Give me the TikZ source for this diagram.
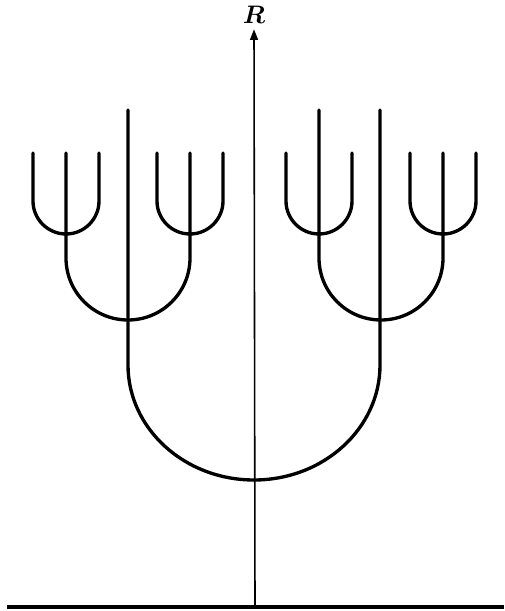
\documentclass[tikz,border=0pt]{standalone}
\usepackage{amsmath}
\usepackage{tikz}
\usetikzlibrary{arrows.meta,positioning}

\begin{document}
\begin{tikzpicture}[
  x=0.02cm, y=0.02cm,
  stem/.style={line width=1.9pt, line cap=round},
  axisline/.style={line width=0.9pt, -{Triangle[length=6pt, width=4.5pt]}},
  ground/.style={line width=1.8pt},
  lbl/.style={font=\Large\boldmath, inner sep=2pt}
]
  \useasboundingbox (0,0) rectangle (504,611);

  % ground line and the R axis
  \coordinate (g0) at (7,4);
  \coordinate (g1) at (504,4);
  \coordinate (base) at (255,4);
  \node[lbl] (rlabel) at (254,596) {$R$};
  \draw[ground] (g0) -- (g1);
  \draw[axisline] (base) -- ([yshift=-1pt]rlabel.south);

  % big fork joining the two trees
  \draw[stem] (128,501) -- (128,246) arc[start angle=180, end angle=360, x radius=126, y radius=115] -- (380,501);

  % left tree
  \draw[stem] (66,458) -- (66,353) arc[start angle=180, end angle=360, radius=62] -- (190,458);
  \draw[stem] (33,458) -- (33,410) arc[start angle=180, end angle=360, radius=33] -- (99,458);
  \draw[stem] (157,458) -- (157,410) arc[start angle=180, end angle=360, radius=33] -- (223,458);

  % right tree
  \draw[stem] (319,501) -- (319,353) arc[start angle=180, end angle=360, radius=62] -- (443,458);
  \draw[stem] (286,458) -- (286,410) arc[start angle=180, end angle=360, radius=33] -- (352,458);
  \draw[stem] (410,458) -- (410,410) arc[start angle=180, end angle=360, radius=33] -- (476,458);
\end{tikzpicture}
\end{document}
